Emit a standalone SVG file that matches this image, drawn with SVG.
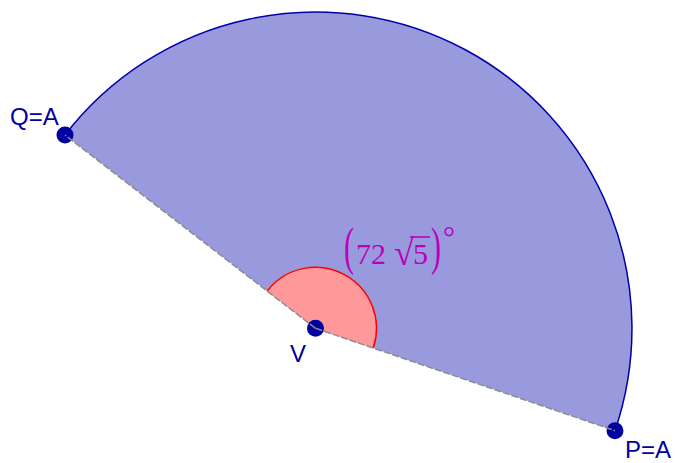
<svg xmlns="http://www.w3.org/2000/svg" width="675" height="463" viewBox="0 0 675 463">
  <style>
    .pt { fill: #0000a0; }
    .lbl { font-family: "Liberation Sans", Arial, sans-serif; font-size: 24px; fill: #0000a0; }
    .math { font-family: "Liberation Serif", "Times New Roman", serif; font-size: 30px; fill: #bb00bb; }
    .seg { stroke: #8c8c8c; stroke-width: 1.5; stroke-dasharray: 7 2; fill: none; }
  </style>
  <rect width="675" height="463" fill="#ffffff"/>
  <g id="sector">
    <path d="M 315.5 328.3 L 615 430.7 A 316.5 316.5 0 0 0 65 135 Z" fill="#9999dd" stroke="none"/>
    <path d="M 615 430.7 A 316.5 316.5 0 0 0 65 135" fill="none" stroke="#0000aa" stroke-width="1.5"/>
  </g>
  <g id="angle">
    <path d="M 315.5 328.3 L 373.2 348 A 61 61 0 0 0 267.2 291 Z" fill="#ff9999" stroke="none"/>
    <path d="M 373.2 348 A 61 61 0 0 0 267.2 291" fill="none" stroke="#ff0000" stroke-width="1.5"/>
    <g class="math">
      <text transform="translate(344 264) scale(1 1.75)">(</text>
      <text x="356" y="263.5">72</text>
      <text x="394" y="265" font-size="36">√</text>
      <text x="413" y="263.5">5</text>
      <text transform="translate(431 264) scale(1 1.75)">)</text>
      <text x="443" y="247">°</text>
    </g>
    <line x1="410" y1="237" x2="430" y2="237" stroke="#bb00bb" stroke-width="1.6"/>
  </g>
  <g id="Q">
    <circle class="pt" cx="65" cy="135" r="8.5"/>
    <text class="lbl" x="10" y="125">Q=A</text>
  </g>
  <g id="V">
    <circle class="pt" cx="315.5" cy="328.3" r="8.5"/>
    <text class="lbl" x="290" y="362">V</text>
  </g>
  <g id="P">
    <circle class="pt" cx="615" cy="430.7" r="8.5"/>
    <text class="lbl" x="625" y="458" font-size="23">P=A</text>
  </g>
  <g id="connectors">
    <line class="seg" x1="315.5" y1="328.3" x2="615" y2="430.7"/>
    <line class="seg" x1="315.5" y1="328.3" x2="65" y2="135"/>
  </g>
</svg>
